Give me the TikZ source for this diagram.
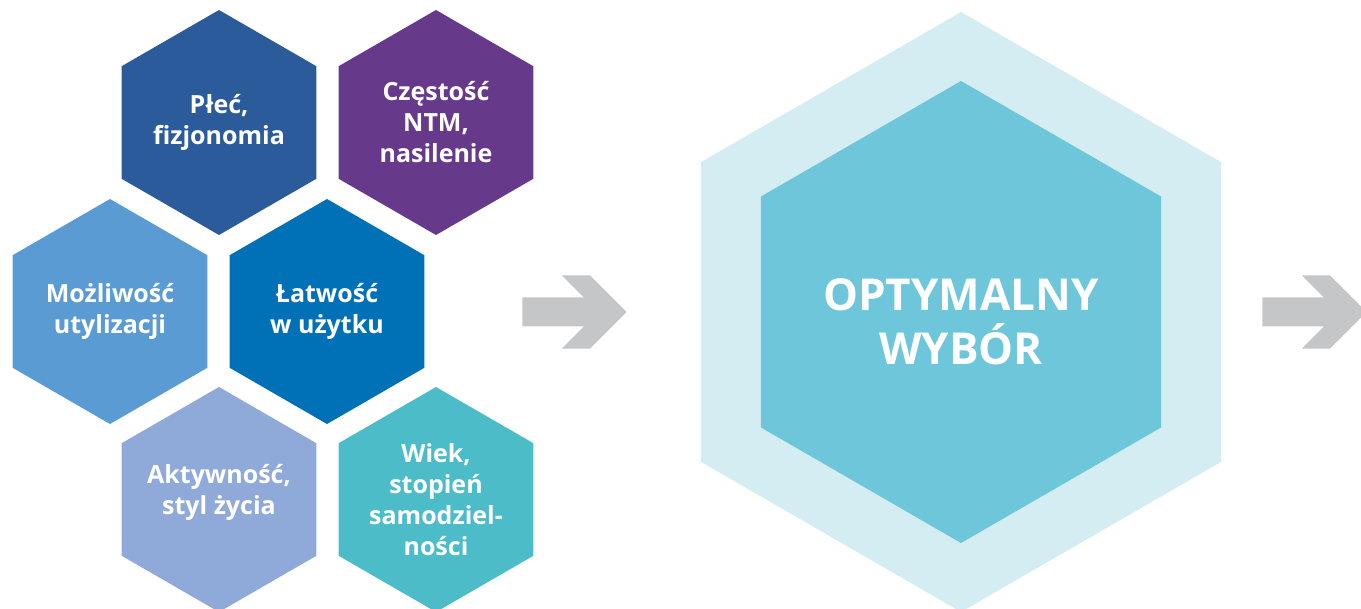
\documentclass[tikz,border=0pt]{standalone}
\usepackage{fontspec}
\setmainfont{Open Sans}
\usetikzlibrary{shapes.geometric}

\definecolor{sexblue}{HTML}{2B5B9B}
\definecolor{freqpurple}{HTML}{67398B}
\definecolor{disposeblue}{HTML}{5B9BD3}
\definecolor{easeblue}{HTML}{0070B7}
\definecolor{activeblue}{HTML}{8FAAD9}
\definecolor{ageteal}{HTML}{4BBCC8}
\definecolor{outerhex}{HTML}{D4EDF2}
\definecolor{innerhex}{HTML}{6EC6DA}
\definecolor{arrowgray}{HTML}{C4C6C8}

\begin{document}
\begin{tikzpicture}[x=1pt,y=-1pt,
    hexa/.style={regular polygon,regular polygon sides=6,shape border rotate=30,
        inner sep=0pt,outer sep=0pt,minimum size=225pt},
    hextext/.style={text=white,align=center,font=\bfseries\fontsize{25}{31}\selectfont},
    bigtext/.style={text=white,align=center,font=\bfseries\fontsize{44}{54}\selectfont},
    grayarrow/.pic={
        \fill[arrowgray] (-104.4,-14.5) -- (-42.8,-14.5) -- (-65,-36.7) -- (-36.7,-36.7)
            -- (0,0) -- (-36.7,36.7) -- (-65,36.7) -- (-42.8,14.5) -- (-104.4,14.5) -- cycle;
    }]
    \clip (0,0) rectangle (1361,609);

    % factors
    \node[hexa,fill=sexblue] (sex) at (219,122.5) {};
    \node[hexa,fill=freqpurple] (freq) at (436,122.5) {};
    \node[hexa,fill=disposeblue] (dispose) at (110,311.5) {};
    \node[hexa,fill=easeblue] (ease) at (327,311.5) {};
    \node[hexa,fill=activeblue] (active) at (219,499.5) {};
    \node[hexa,fill=ageteal] (age) at (436,499.5) {};

    \node[hextext] at (sex) {Płeć,\\fizjonomia};
    \node[hextext] at (freq) {Częstość\\NTM,\\nasilenie};
    \node[hextext] at (dispose) {Możliwość\\utylizacji};
    \node[hextext] at (ease) {Łatwość\\w użytku};
    \node[hextext] at ([yshift=7pt]active.center) {Aktywność,\\styl życia};
    \node[hextext] at (age) {Wiek,\\stopień\\samodziel-\\ności};

    % choice
    \node[hexa,fill=outerhex,minimum size=600pt] (outer) at (961,312) {};
    \node[hexa,fill=innerhex,minimum size=462pt] (choice) at (outer) {};
    \node[bigtext] at ([yshift=-9.5pt]choice.center) {OPTYMALNY\\WYBÓR};

    \pic at (626.7,312) {grayarrow};
    \pic at (1366.7,312) {grayarrow};
\end{tikzpicture}
\end{document}
